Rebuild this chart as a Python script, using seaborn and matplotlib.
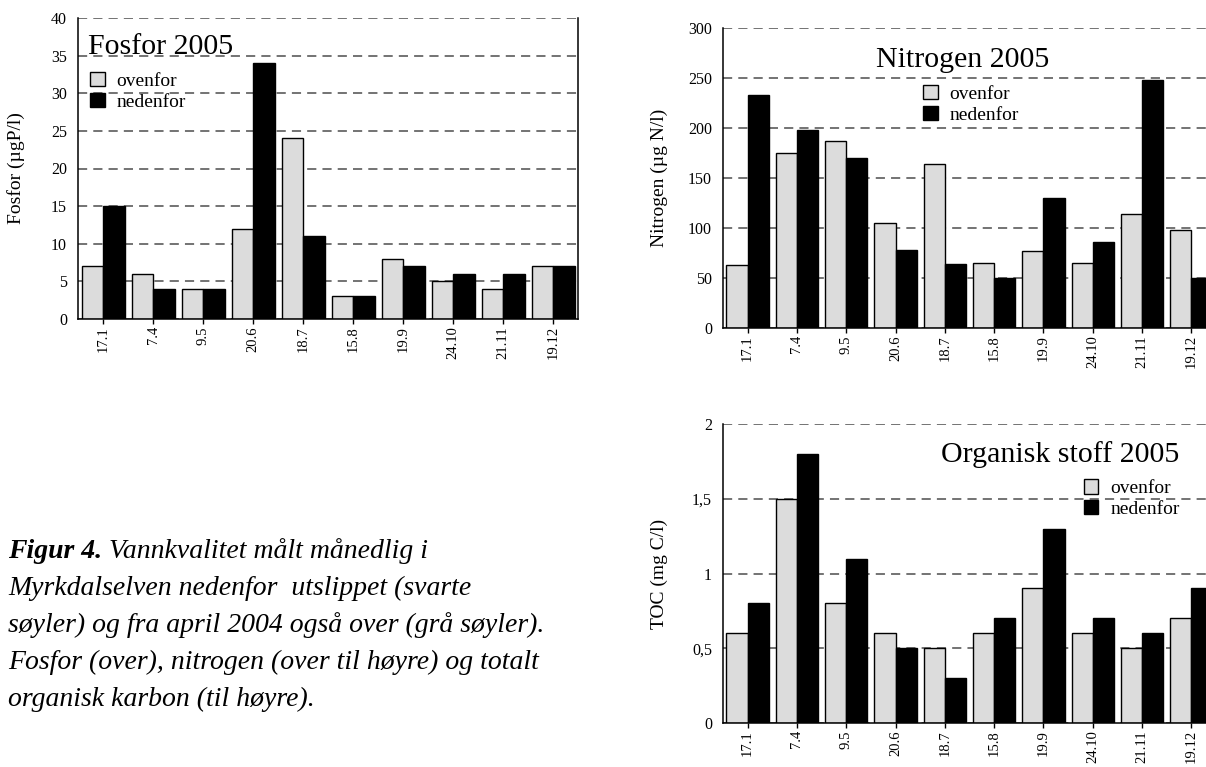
import numpy as np
import pandas as pd
import seaborn as sns
import matplotlib.pyplot as plt

# sampling dates (2005)
datoer = ["17.1", "7.4", "9.5", "20.6", "18.7", "15.8", "19.9", "24.10", "21.11", "19.12"]
serier = ["ovenfor", "nedenfor"]

fosfor_ovenfor = [7, 6, 4, 12, 24, 3, 8, 5, 4, 7]
fosfor_nedenfor = [15, 4, 4, 34, 11, 3, 7, 6, 6, 7]

nitrogen_ovenfor = [63, 175, 187, 105, 164, 65, 77, 65, 114, 98]
nitrogen_nedenfor = [233, 198, 170, 78, 64, 50, 130, 86, 248, 50]

toc_ovenfor = [0.6, 1.5, 0.8, 0.6, 0.5, 0.6, 0.9, 0.6, 0.5, 0.7]
toc_nedenfor = [0.8, 1.8, 1.1, 0.5, 0.3, 0.7, 1.3, 0.7, 0.6, 0.9]

toc_ticks = [0, 0.5, 1, 1.5, 2]
toc_ticklabels = ["0", "0,5", "1", "1,5", "2"]

caption_bold = "Figur 4."
caption_lines = [
    " Vannkvalitet målt månedlig i",
    "Myrkdalselven nedenfor  utslippet (svarte",
    "søyler) og fra april 2004 også over (grå søyler).",
    "Fosfor (over), nitrogen (over til høyre) og totalt",
    "organisk karbon (til høyre).",
]

sns.set_theme(style="white")
plt.rcParams["font.family"] = ["Liberation Serif", "DejaVu Serif"]
plt.rcParams["text.color"] = "black"
plt.rcParams["axes.labelcolor"] = "black"
plt.rcParams["xtick.color"] = "black"
plt.rcParams["ytick.color"] = "black"


def make_df(ovenfor, nedenfor):
    return pd.DataFrame({
        "dato": datoer * 2,
        "posisjon": ["ovenfor"] * len(datoer) + ["nedenfor"] * len(datoer),
        "verdi": list(ovenfor) + list(nedenfor),
    })


def draw_panel(ax, df, ymax, ystep, ylabel, label_x):
    sns.barplot(data=df, x="dato", y="verdi", hue="posisjon", hue_order=serier,
                palette=["#dcdcdc", "black"], edgecolor="black", linewidth=1.0,
                width=0.86, gap=0, ax=ax, errorbar=None)
    ax.set_xlim(-0.5, len(datoer) - 0.5)
    ax.set_ylim(0, ymax)
    ax.set_yticks(np.arange(0, ymax + ystep / 2, ystep))
    ax.set_axisbelow(True)
    ax.yaxis.grid(True, color="0.3", linestyle=(0, (6, 4)), linewidth=1.1)
    ax.xaxis.grid(False)
    ax.spines["top"].set_visible(False)
    for s in ["left", "right", "bottom"]:
        ax.spines[s].set_color("black")
        ax.spines[s].set_linewidth(1.1)
    ax.tick_params(axis="x", rotation=90, length=3.6, width=1, direction="out",
                   bottom=True, labelsize=10.5, pad=1.5)
    ax.tick_params(axis="y", length=0, labelsize=11.5, pad=8)
    ax.set_xlabel("")
    ax.set_ylabel(ylabel, fontsize=14)
    ax.yaxis.set_label_coords(label_x, 0.5)


def add_legend(ax, x, y):
    ax.legend(loc="upper left", bbox_to_anchor=(x, y), frameon=False, fontsize=14,
              handlelength=0.75, handleheight=0.75, handletextpad=0.6,
              labelspacing=0.15, borderpad=0, borderaxespad=0)


fig = plt.figure(figsize=(12.06, 7.67), dpi=100)

# Fosfor
ax1 = fig.add_axes([78 / 1206, 448 / 767, 500 / 1206, 301 / 767])
draw_panel(ax1, make_df(fosfor_ovenfor, fosfor_nedenfor), 40, 5, "Fosfor (µgP/l)", -0.106)
ax1.text(0.02, 0.880, "Fosfor 2005", transform=ax1.transAxes, fontsize=21.5,
         ha="left", va="baseline")
add_legend(ax1, 0.024, 0.82)

# Nitrogen
ax2 = fig.add_axes([723 / 1206, 439 / 767, 493 / 1206, 300 / 767])
draw_panel(ax2, make_df(nitrogen_ovenfor, nitrogen_nedenfor), 300, 50, "Nitrogen (µg N/l)", -0.112)
ax2.text(0.31, 0.871, "Nitrogen 2005", transform=ax2.transAxes, fontsize=21.5,
         ha="left", va="baseline")
add_legend(ax2, 0.406, 0.81)

# Organisk stoff
ax3 = fig.add_axes([723 / 1206, 44 / 767, 493 / 1206, 299 / 767])
draw_panel(ax3, make_df(toc_ovenfor, toc_nedenfor), 2, 0.5, "TOC (mg C/l)", -0.112)
ax3.set_yticks(toc_ticks)
ax3.set_yticklabels(toc_ticklabels)
ax3.text(0.925, 0.874, "Organisk stoff 2005", transform=ax3.transAxes, fontsize=21.5,
         ha="right", va="baseline")
add_legend(ax3, 0.732, 0.815)

# caption
baselines = [558, 595, 632, 669, 706]
x0 = 8 / 1206
t = fig.text(x0, 1 - baselines[0] / 767, caption_bold, fontsize=20, fontweight="bold",
             style="italic", va="baseline", ha="left")
fig.canvas.draw()
bb = t.get_window_extent()
fig.text(bb.x1 / fig.bbox.width, 1 - baselines[0] / 767, caption_lines[0], fontsize=20,
         style="italic", va="baseline", ha="left")
for line, yb in zip(caption_lines[1:], baselines[1:]):
    fig.text(x0, 1 - yb / 767, line, fontsize=20, style="italic", va="baseline", ha="left")

fig.savefig("out.png", dpi=100)
plt.close(fig)
